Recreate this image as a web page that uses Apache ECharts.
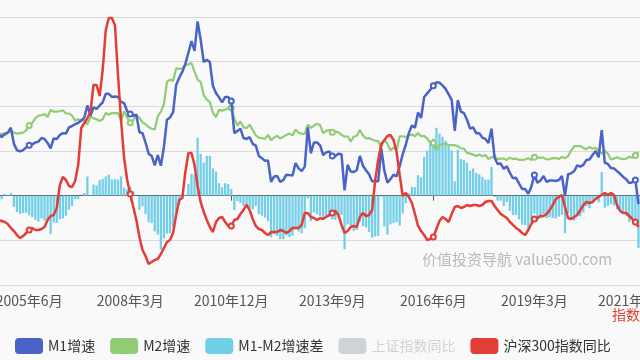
<!DOCTYPE html>
<html><head><meta charset="utf-8">
<script src="https://cdn.jsdelivr.net/npm/echarts@6/dist/echarts.min.js"></script>
<style>html,body{margin:0;padding:0;background:#f9f9f9}#c{width:640px;height:360px}</style>
</head><body><div id="c"></div>
<script>
// Monthly categories 2004-07 .. 2022-01
const startYear = 2004, startMonth = 7, monthCount = 211;
const categories = [];
for (let k = 0; k < monthCount; k++) {
  const t = (startMonth - 1) + k;
  categories.push((startYear + Math.floor(t / 12)) + '年' + (t % 12 + 1) + '月');
}

const m1Growth = [
  14.0, 13.7, 13.1, 13.9, 14.1, 15.2,
  11.6, 10.2, 9.9, 10.2, 10.8, 11.3, 11.5, 11.9, 12.1, 12.9, 12.7, 11.8,
  10.6, 12.8, 12.7, 13.6, 14.0, 13.9, 15.3, 15.6, 16.0, 16.3, 16.8, 17.5,
  20.2, 17.9, 19.8, 19.4, 20.2, 20.9, 22.8, 22.8, 22.1, 22.2, 22.1, 21.0,
  20.7, 18.9, 18.3, 17.9, 18.1, 14.2, 14.0, 11.9, 9.4, 8.9, 6.8, 9.1,
  6.7, 10.9, 17.0, 17.5, 18.7, 24.8, 26.4, 27.7, 29.5, 32.0, 34.6, 32.4,
  39.0, 34.9, 29.9, 30.4, 29.9, 24.6, 23.0, 22.0, 20.9, 22.1, 22.1, 21.2,
  14.0, 14.5, 15.0, 12.9, 12.7, 13.1, 11.6, 11.2, 8.9, 8.4, 7.8, 7.9,
  3.1, 4.3, 4.4, 3.1, 3.5, 4.7, 4.6, 4.5, 7.3, 6.1, 5.5, 6.5,
  15.3, 9.5, 11.9, 11.9, 11.3, 9.1, 9.7, 9.9, 8.9, 8.9, 9.4, 9.3,
  1.2, 6.9, 5.4, 5.3, 5.7, 8.9, 6.7, 5.7, 4.8, 3.2, 3.2, 3.2,
  10.6, 5.6, 2.9, 3.7, 4.7, 4.3, 6.6, 9.3, 11.4, 14.0, 15.7, 15.2,
  18.6, 17.4, 22.1, 22.9, 23.7, 24.6, 25.4, 25.3, 24.7, 23.9, 22.7, 21.4,
  14.5, 21.4, 18.8, 18.5, 17.0, 15.0, 15.3, 14.0, 14.0, 13.0, 12.7, 11.8,
  15.0, 8.5, 7.1, 7.2, 6.0, 6.6, 5.1, 3.9, 4.0, 2.7, 1.5, 1.5,
  0.4, 2.0, 4.6, 2.9, 3.4, 4.4, 3.1, 3.4, 3.4, 3.3, 3.5, 4.4,
  0.0, 4.8, 5.0, 5.5, 6.8, 6.5, 6.9, 8.0, 8.1, 9.1, 10.0, 8.6,
  14.7, 7.4, 7.1, 6.2, 6.1, 5.5, 4.9, 4.2, 3.7, 2.8, 3.0, 3.5,
  -1.9
];

const m2Growth = [
  15.3, 13.6, 13.9, 13.5, 14.0, 14.6,
  14.1, 13.9, 14.0, 14.1, 14.6, 15.7, 16.3, 17.3, 17.9, 18.0, 18.3, 17.6,
  19.2, 18.8, 18.8, 18.9, 19.1, 18.4, 18.4, 17.9, 16.8, 17.1, 16.8, 16.9,
  15.9, 17.8, 17.3, 17.1, 16.7, 17.1, 18.5, 18.1, 18.5, 18.5, 18.5, 16.7,
  18.9, 17.5, 16.3, 16.9, 18.1, 17.4, 16.4, 16.0, 15.3, 15.0, 14.8, 17.8,
  18.8, 20.5, 25.5, 26.0, 25.7, 28.5, 28.4, 28.5, 29.3, 29.4, 29.7, 27.7,
  26.0, 25.5, 22.5, 21.5, 21.0, 18.5, 17.6, 19.2, 19.0, 19.3, 19.5, 19.7,
  17.2, 15.7, 16.6, 15.3, 15.1, 15.9, 14.7, 13.5, 13.0, 12.9, 12.7, 13.6,
  12.4, 13.0, 13.4, 12.8, 13.2, 13.6, 13.9, 13.5, 14.8, 14.1, 13.9, 13.8,
  15.9, 15.2, 15.7, 16.1, 15.8, 14.0, 14.5, 14.7, 14.2, 14.3, 14.2, 13.6,
  13.2, 13.3, 12.1, 13.2, 13.4, 14.7, 13.5, 12.8, 12.9, 12.6, 12.3, 12.2,
  10.8, 12.5, 11.6, 10.1, 10.8, 10.2, 13.3, 13.3, 13.1, 13.5, 13.7, 13.3,
  14.0, 13.3, 13.4, 12.8, 11.8, 11.8, 10.2, 11.4, 11.5, 11.6, 11.4, 11.3,
  11.3, 11.1, 10.6, 10.5, 9.6, 9.4, 9.2, 8.9, 9.2, 8.8, 9.1, 8.2,
  8.6, 8.8, 8.2, 8.3, 8.3, 8.0, 8.5, 8.2, 8.3, 8.0, 8.0, 8.1,
  8.4, 8.0, 8.6, 8.5, 8.5, 8.5, 8.1, 8.2, 8.4, 8.4, 8.2, 8.7,
  8.4, 8.8, 10.1, 11.1, 11.1, 11.1, 10.7, 10.4, 10.9, 10.5, 10.7, 10.1,
  9.4, 10.1, 9.4, 8.1, 8.3, 8.6, 8.3, 8.2, 8.3, 8.7, 8.5, 9.0,
  9.8
];

const m1m2Gap = [
  -1.3, 0.1, -0.8, 0.4, 0.1, 0.6,
  -2.5, -3.7, -4.1, -3.9, -3.8, -4.4, -4.8, -5.4, -5.8, -5.1, -5.6, -5.8,
  -8.6, -6.0, -6.1, -5.3, -5.1, -4.5, -3.1, -2.3, -0.8, -0.8, 0.0, 0.6,
  4.3, 0.1, 2.5, 2.3, 3.5, 3.8, 4.3, 4.7, 3.6, 3.7, 3.6, 4.3,
  1.8, 1.4, 2.0, 1.0, 0.0, -3.2, -2.4, -4.1, -5.9, -6.1, -8.0, -8.7,
  -12.1, -9.6, -8.5, -8.5, -7.0, -3.7, -2.0, -0.8, 0.2, 2.6, 4.9, 4.7,
  13.0, 9.4, 7.4, 8.9, 8.9, 6.1, 5.4, 2.8, 1.9, 2.8, 2.6, 1.5,
  -3.2, -1.2, -1.6, -2.4, -2.4, -2.8, -3.1, -2.3, -4.1, -4.5, -4.9, -5.7,
  -9.3, -8.7, -9.0, -9.7, -9.7, -8.9, -9.3, -9.0, -7.5, -8.0, -8.4, -7.3,
  -0.6, -5.7, -3.8, -4.2, -4.5, -4.9, -4.8, -4.8, -5.3, -5.4, -4.8, -4.3,
  -12.0, -6.4, -6.7, -7.9, -7.7, -5.8, -6.8, -7.1, -8.1, -9.4, -9.1, -9.0,
  -0.2, -6.9, -8.7, -6.4, -6.1, -5.9, -6.7, -4.0, -1.7, 0.5, 2.0, 1.9,
  4.6, 4.1, 8.7, 10.1, 11.9, 12.8, 15.2, 13.9, 13.2, 12.3, 11.3, 10.1,
  3.2, 10.3, 8.2, 8.0, 7.4, 5.6, 6.1, 5.1, 4.8, 4.2, 3.6, 3.6,
  6.4, -0.3, -1.1, -1.1, -2.3, -1.4, -3.4, -4.3, -4.3, -5.3, -6.5, -6.6,
  -8.0, -6.0, -4.0, -5.6, -5.1, -4.1, -5.0, -4.8, -5.0, -5.1, -4.7, -4.3,
  -8.4, -4.0, -5.1, -5.6, -4.3, -4.6, -3.8, -2.4, -2.8, -1.4, -0.7, -1.5,
  5.3, -2.7, -2.3, -1.9, -2.2, -3.1, -3.4, -4.0, -4.6, -5.9, -5.5, -5.5,
  -11.7
];

const shIndexYoY = []; // series hidden in the legend

const csi300YoY = [
  -1.5, -3.0, -4.5, -6.0, -9.0, -14.9,
  -19.4, -25.4, -29.9, -26.9, -22.4, -17.9, -14.9, -17.9, -17.9, -16.4, -13.4, -3.0,
  3.0, 4.5, 14.9, 49.3, 61.2, 56.7, 47.8, 46.3, 55.2, 79.1, 134.3, 141.8,
  149.2, 158.2, 198.5, 198.5, 182.1, 220.9, 280.6, 298.5, 298.5, 288.1, 213.4, 146.3,
  89.5, 56.7, 35.8, 16.4, -3.0, -28.4, -47.8, -56.7, -68.7, -65.7, -62.7, -61.2,
  -53.7, -44.8, -35.8, -32.8, -22.4, 4.5, 26.9, 29.8, 68.7, 97.0, 97.0, 79.1,
  47.8, 23.9, 9.0, -3.0, -13.4, -20.9, -6.0, 0.0, 1.5, -6.0, -11.9, -11.9,
  -3.0, -1.5, 6.0, 11.9, 19.4, 11.9, -1.5, -11.9, -16.4, -17.9, -22.4, -25.4,
  -20.9, -20.9, -20.9, -17.9, -19.4, -22.4, -19.4, -14.9, -14.9, -14.9, -10.4, 7.5,
  7.5, 1.5, 0.0, -3.0, 0.0, -1.5, 1.5, 4.5, 7.5, 10.4, 4.5, -10.4,
  -22.4, -19.4, -13.4, -11.9, -13.4, 1.5, 7.5, 3.0, 4.5, 11.9, 56.7, 86.6,
  110.4, 116.4, 122.4, 123.9, 116.4, 98.5, 64.2, 32.8, 37.3, 31.3, 22.4, 6.0,
  -11.9, -19.4, -25.4, -32.8, -31.3, -28.4, -16.4, -4.5, 1.5, -1.5, -6.0, 6.0,
  16.4, 17.9, 14.9, 16.4, 19.4, 17.9, 19.4, 19.4, 17.9, 19.4, 23.9, 25.4,
  25.4, 17.9, 11.9, 6.0, 3.0, 0.0, -6.0, -10.4, -14.9, -17.9, -22.4, -25.4,
  -17.9, -9.0, -1.5, 0.0, 3.0, 3.0, 6.0, 11.9, 19.4, 28.4, 31.3, 34.3,
  16.4, 0.0, -1.5, 1.5, 4.5, 11.9, 19.4, 23.9, 22.4, 23.9, 28.4, 31.3,
  34.3, 37.3, 34.3, 37.3, 34.3, 19.4, 10.4, 7.5, 7.5, 3.0, -1.5, -6.0,
  -13.4
];

const seriesNames = ['M1增速', 'M2增速', 'M1-M2增速差', '上证指数同比', '沪深300指数同比'];
const FONT = '"Noto Sans CJK SC", "Noto Sans", sans-serif';
const firstLabel = 11, labelStep = 33;
const showAt = (idx) => idx >= firstLabel && (idx - firstLabel) % labelStep === 0;

const chart = echarts.init(document.getElementById('c'), null, {renderer: 'canvas'});
chart.setOption({
  animation: false,
  backgroundColor: '#f9f9f9',
  textStyle: {fontFamily: FONT},
  grid: {left: -6, right: 0, top: 17, bottom: 75, containLabel: false, outerBoundsMode: 'none'},
  legend: {
    top: 333, left: 10, icon: 'roundRect', itemWidth: 28, itemHeight: 16, itemGap: 15,
    textStyle: {fontSize: 14, color: '#333', fontFamily: FONT},
    data: seriesNames,
    selected: {'上证指数同比': false}
  },
  graphic: [{
    type: 'text', left: 422, top: 252, silent: true,
    style: {text: '价值投资导航 value500.com', fill: '#b9b9b9', fontSize: 15, fontFamily: FONT}
  }],
  xAxis: [{
    type: 'category', data: categories, position: 'bottom',
    axisLine: {show: false, onZero: false}, axisTick: {show: false},
    axisLabel: {interval: showAt, fontSize: 14, color: '#555', margin: 9, fontFamily: FONT},
    splitLine: {show: false}
  }, {
    type: 'category', data: categories, position: 'top',
    axisLine: {show: true, onZero: true, lineStyle: {color: '#555', width: 1}},
    axisTick: {show: true, inside: true, length: 5, alignWithLabel: true, interval: showAt, lineStyle: {color: '#555'}},
    axisLabel: {show: false, interval: showAt}
  }],
  yAxis: [{
    type: 'value', min: -20, max: 40, interval: 10, position: 'left',
    axisLine: {show: false}, axisTick: {show: false},
    axisLabel: {color: '#555', formatter: '{value}%'},
    splitLine: {lineStyle: {color: '#dadada', width: 1}}
  }, {
    type: 'value', min: -100, max: 300, interval: 100, position: 'right',
    name: '指数同比', nameLocation: 'start', nameGap: 7,
    nameTextStyle: {color: '#e23d36', fontSize: 14, fontFamily: FONT},
    axisLine: {show: false}, axisTick: {show: false},
    axisLabel: {color: '#e23d36', formatter: '{value}%'},
    splitLine: {show: false}
  }],
  series: [{
    name: seriesNames[0], type: 'line', data: m1Growth, xAxisIndex: 0, yAxisIndex: 0,
    color: '#4a63c6', symbol: 'emptyCircle', symbolSize: 5,
    lineStyle: {width: 2.5, color: '#4a63c6'}, z: 4
  }, {
    name: seriesNames[1], type: 'line', data: m2Growth, xAxisIndex: 0, yAxisIndex: 0,
    color: '#91cc75', symbol: 'emptyCircle', symbolSize: 5,
    lineStyle: {width: 2.2, color: '#91cc75'}, z: 3
  }, {
    name: seriesNames[2], type: 'bar', data: m1m2Gap, xAxisIndex: 0, yAxisIndex: 0,
    color: '#73cfe8', itemStyle: {color: '#73cfe8'}, barCategoryGap: '25%', z: 2
  }, {
    name: seriesNames[3], type: 'line', data: shIndexYoY, xAxisIndex: 0, yAxisIndex: 1,
    color: '#999999', symbol: 'emptyCircle', symbolSize: 5, lineStyle: {width: 2.5}
  }, {
    name: seriesNames[4], type: 'line', data: csi300YoY, xAxisIndex: 0, yAxisIndex: 1,
    color: '#e23d36', symbol: 'emptyCircle', symbolSize: 5,
    lineStyle: {width: 2.5, color: '#e23d36'}, z: 5
  }]
});
</script></body></html>
